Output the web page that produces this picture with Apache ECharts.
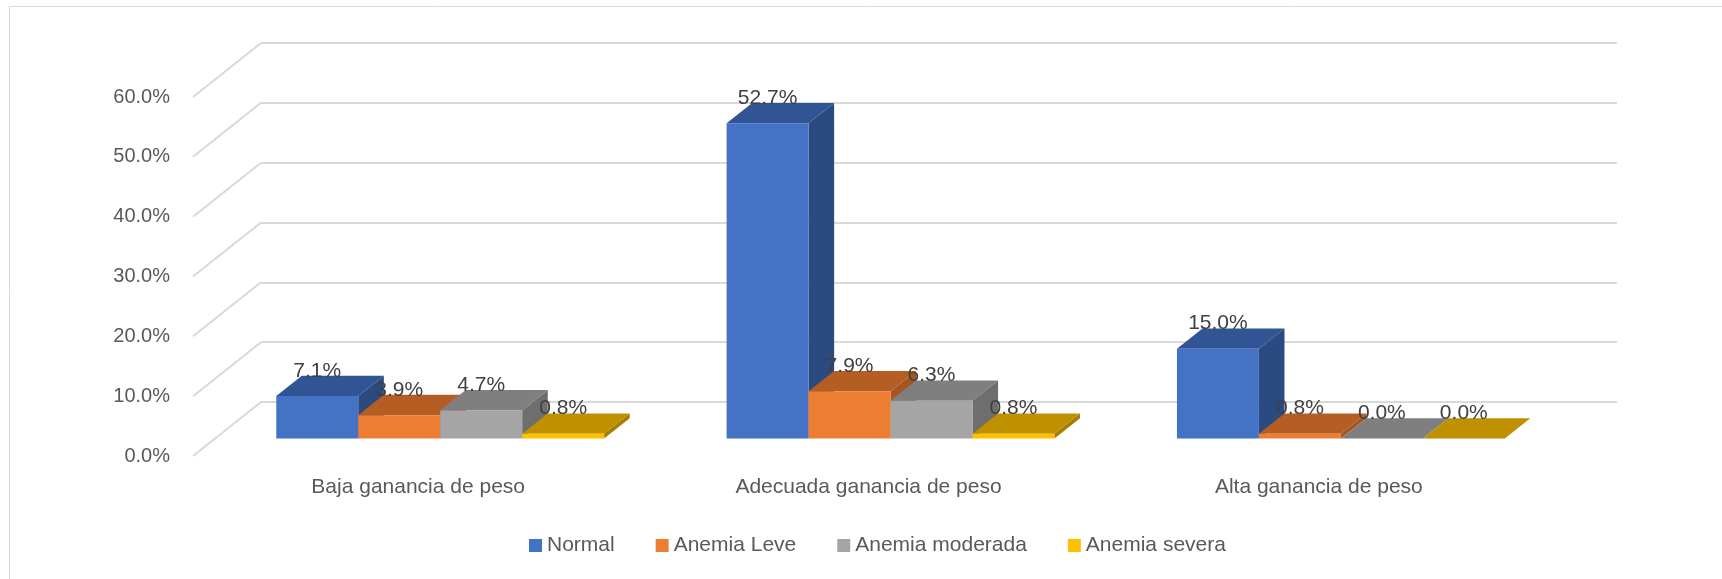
<!DOCTYPE html>
<html>
<head>
<meta charset="utf-8">
<script src="https://cdn.jsdelivr.net/npm/echarts@6/dist/echarts.min.js"></script>
<style>
  html, body { margin: 0; padding: 0; background: #fff; }
  #chart { width: 1722px; height: 579px; }
</style>
</head>
<body>
<div id="chart"></div>
<script>
// data
const categories = ['Baja ganancia de peso', 'Adecuada ganancia de peso', 'Alta ganancia de peso'];
const seriesNames = ['Normal', 'Anemia Leve', 'Anemia moderada', 'Anemia severa'];
const normal = [7.1, 52.7, 15.0];
const anemiaLeve = [3.9, 7.9, 0.8];
const anemiaModerada = [4.7, 6.3, 0.0];
const anemiaSevera = [0.8, 0.8, 0.0];
const yTicks = [0, 10, 20, 30, 40, 50, 60];

const seriesValues = [normal, anemiaLeve, anemiaModerada, anemiaSevera];
// front / top / side shades (excel 3d look)
const faceColors = [
    { front: '#4472C4', top: '#315494', side: '#2A4A80' },
    { front: '#ED7D31', top: '#B55E24', side: '#A65420' },
    { front: '#A5A5A5', top: '#7F7F7F', side: '#6E6E6E' },
    { front: '#FFC000', top: '#BF9000', side: '#A67D00' }
];

const FONT = '"Liberation Sans", Arial, sans-serif';
const DEPTH = [68, -54];      // front plane -> back wall
const F_FRONT = 0.324;        // bars front face depth
const F_BACK = 0.70;          // bars back face depth
const GROUP_FRAC = 0.728;     // share of a category band used by the bars

let EChart = echarts.init(document.getElementById('chart'));

function barSeries(j) {
    return {
        name: seriesNames[j],
        type: 'custom',
        xAxisIndex: 0,
        yAxisIndex: 0,
        itemStyle: { color: faceColors[j].front },
        data: seriesValues[j].map((v, i) => [i, v]),
        renderItem: function (params, api) {
            let cat = api.value(0), val = api.value(1);
            let base = api.coord([cat, 0]);
            let top = api.coord([cat, val]);
            let band = api.size([1, 0])[0];
            let barW = band * GROUP_FRAC / seriesNames.length;
            let ox = DEPTH[0] * F_FRONT, oy = DEPTH[1] * F_FRONT;
            let dx = DEPTH[0] * (F_BACK - F_FRONT), dy = DEPTH[1] * (F_BACK - F_FRONT);
            let x0 = base[0] - band * GROUP_FRAC / 2 + j * barW + ox;
            let x1 = x0 + barW;
            let yb = base[1] + oy, yt = top[1] + oy;
            let c = faceColors[j];
            return {
                type: 'group',
                children: [
                    { type: 'polygon', shape: { points: [[x1, yt], [x1 + dx, yt + dy], [x1 + dx, yb + dy], [x1, yb]] },
                      style: { fill: c.side } },
                    { type: 'polygon', shape: { points: [[x0, yt], [x1, yt], [x1 + dx, yt + dy], [x0 + dx, yt + dy]] },
                      style: { fill: c.top } },
                    { type: 'rect', shape: { x: x0, y: yt, width: barW, height: Math.max(yb - yt, 0.01) },
                      style: { fill: c.front } },
                    { type: 'text', z2: 50,
                      style: { x: (x0 + x1) / 2, y: yt + dy - 5, text: val.toFixed(1) + '%',
                               fill: '#404040', font: '21px ' + FONT, align: 'center', verticalAlign: 'middle' } }
                ]
            };
        }
    };
}

// left diagonal lines from the front plane up to the back wall
let diagSeries = {
    type: 'custom',
    xAxisIndex: 0,
    yAxisIndex: 0,
    silent: true,
    data: yTicks.map(t => [0, t]),
    z: 1,
    renderItem: function (params, api) {
        let p = api.coord([0, api.value(1)]);
        let band = api.size([1, 0])[0];
        let x = p[0] - band / 2;
        return {
            type: 'line',
            shape: { x1: x, y1: p[1], x2: x + DEPTH[0], y2: p[1] + DEPTH[1] },
            style: { stroke: '#D9D9D9', lineWidth: 2 }
        };
    }
};

let config = {
    animation: false,
    backgroundColor: '#fff',
    graphic: [{
        type: 'rect', silent: true, z: -10,
        shape: { x: 9.5, y: 6.5, width: 1800, height: 700 },
        style: { fill: 'none', stroke: '#D9D9D9', lineWidth: 1 }
    }],
    grid: [
        { left: 193, width: 1351, top: 97, height: 359 },   // front plane
        { left: 261, right: 105, top: 43, height: 359 }     // back wall
    ],
    xAxis: [
        {
            gridIndex: 0, type: 'category', data: categories,
            axisLine: { show: false }, axisTick: { show: false },
            axisLabel: { color: '#595959', fontSize: 21, fontFamily: FONT, margin: 21 }
        },
        {
            gridIndex: 1, type: 'category', data: categories, show: false
        }
    ],
    yAxis: [
        {
            gridIndex: 0, type: 'value', min: 0, max: 60, interval: 10,
            splitLine: { show: false }, axisLine: { show: false }, axisTick: { show: false },
            axisLabel: { color: '#595959', fontSize: 20, fontFamily: FONT, margin: 23,
                         formatter: v => v.toFixed(1) + '%' }
        },
        {
            gridIndex: 1, type: 'value', min: 0, max: 60, interval: 10,
            axisLine: { show: false }, axisTick: { show: false }, axisLabel: { show: false },
            splitLine: { lineStyle: { color: '#D9D9D9', width: 2 } }
        }
    ],
    legend: {
        data: seriesNames,
        left: 524,
        top: 530,
        icon: 'rect',
        itemWidth: 13,
        itemHeight: 13,
        itemGap: 41,
        textStyle: { color: '#595959', fontSize: 21, fontFamily: FONT }
    },
    series: [diagSeries].concat(seriesNames.map((n, j) => barSeries(j)))
};

EChart.setOption(config);
</script>
</body>
</html>
